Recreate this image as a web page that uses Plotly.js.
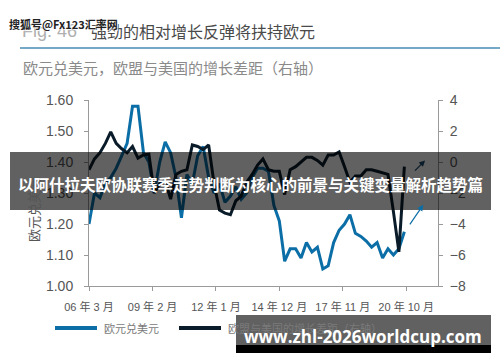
<!DOCTYPE html>
<html><head><meta charset="utf-8">
<script src="https://cdn.plot.ly/plotly-3.0.1.min.js"></script>
<style>html,body{margin:0;padding:0;background:#fff}#c{width:500px;height:362px}</style>
</head><body><div id="c"></div>
<script>
const dates = ['2006-03','2006-06','2006-09','2006-12','2007-03','2007-06','2007-09','2007-12',
'2008-03','2008-06','2008-09','2008-12','2009-03','2009-06','2009-09','2009-12',
'2010-03','2010-06','2010-09','2010-12','2011-03','2011-06','2011-09','2011-12',
'2012-03','2012-06','2012-09','2012-12','2013-03','2013-06','2013-09','2013-12',
'2014-03','2014-06','2014-09','2014-12','2015-03','2015-06','2015-09','2015-12',
'2016-03','2016-06','2016-09','2016-12','2017-03','2017-06','2017-09','2017-12',
'2018-03','2018-06','2018-09','2018-12','2019-03','2019-06','2019-09','2019-12',
'2020-03','2020-06','2020-09'];
const eurusd = [1.20,1.30,1.285,1.33, 1.35,1.38,1.42,1.46, 1.58,1.58,1.43,1.40, 1.30,1.40,1.465,1.43,
1.35,1.22,1.36,1.33, 1.42,1.45,1.35,1.30, 1.33,1.27,1.29,1.32, 1.28,1.30,1.35,1.38,
1.38,1.37,1.26,1.21, 1.08,1.12,1.12,1.09, 1.14,1.11,1.125,1.055, 1.065,1.14,1.18,1.20,
1.23,1.17,1.16,1.145, 1.125,1.14,1.09,1.12, 1.10,1.12,1.175];
const growthGap = [-0.5,0.2,0.6,1.2, 1.95,1.2,0.85,0.6, 1.0,0.25,0.45,0.5, -2.0,-1.4,-1.2,-2.4,
-0.8,-0.6,-0.5,1.1, 1.0,0.8,1.1,-1.4, -3.1,-3.3,-3.4,-2.5, -2.2,-1.3,-0.8,-0.2,
0.2,-0.5,-0.6,-0.6, -2.1,-0.5,-0.3,0.0, 0.3,0.3,0.1,-0.2, 0.45,0.45,0.65,-0.3,
-1.3,-0.9,-0.9,-0.5, -0.5,-0.6,-0.7,-0.8, -3.2,-5.8,-0.3];
const xTickVals = ['2006-03-01','2009-02-01','2012-01-01','2014-12-01','2017-11-01','2020-10-01'];
const xTickText = ['06 年 3 月','09 年 2 月','12 年 1 月','14 年 12 月','17 年 11 月','20 年 10 月'];
const seriesNames = ['欧元兑美元','欧盟与美国的增长差距（右轴）'];
const blue = '#0b6ea6', dark = '#0a1c2a';

// pixel -> paper helpers (plot area 89..438 x 100..286)
const L=89,R=438,T=100,B=286;
const PX = x => (x-L)/(R-L);
const PY = y => (B-y)/(B-T);
const FONT = 'Liberation Sans, Arial, Noto Sans CJK SC, sans-serif';
const CJK = 'Noto Sans CJK SC, sans-serif';

const traces = [
  {x: dates, y: eurusd, type:'scatter', mode:'lines', name: seriesNames[0],
   line:{color:blue, width:3}, yaxis:'y'},
  {x: dates, y: growthGap, type:'scatter', mode:'lines', name: seriesNames[1],
   line:{color:dark, width:3}, yaxis:'y2'}
];

const axCommon = {showline:true, linecolor:'#9a9a9a', linewidth:1, ticks:'outside', ticklen:4,
  tickcolor:'#9a9a9a', showgrid:false, zeroline:false, tickfont:{family:FONT, size:14, color:'#555'}};

const layout = {
  width:500, height:362, margin:{l:L, r:500-R, t:T, b:362-B}, showlegend:false,
  paper_bgcolor:'#fff', plot_bgcolor:'#fff',
  xaxis: Object.assign({}, axCommon, {type:'date', range:['2006-03-01','2022-03-20'],
    tickmode:'array', tickvals:xTickVals, ticktext:xTickText, ticklabelstandoff:7, tickangle:0,
    tickfont:{family:FONT, size:11, color:'#555'}}),
  yaxis: Object.assign({}, axCommon, {range:[1.0,1.6], dtick:0.1, tick0:1.0, tickformat:'.2f', ticklabelstandoff:8}),
  yaxis2: Object.assign({}, axCommon, {overlaying:'y', side:'right', range:[-8,4], dtick:2, tick0:-8, ticklabelstandoff:4}),
  shapes: [
    {type:'line', xref:'paper', yref:'paper', x0:PX(20), x1:PX(500), y0:PY(48), y1:PY(48), line:{color:'#4a8db5', width:1.5}},
    {type:'line', xref:'paper', yref:'paper', x0:PX(55), x1:PX(97), y0:PY(328), y1:PY(328), line:{color:blue, width:4}},
    {type:'line', xref:'paper', yref:'paper', x0:PX(179), x1:PX(221), y0:PY(328), y1:PY(328), line:{color:dark, width:4}},
    // overlay banner
    {type:'rect', xref:'paper', yref:'paper', x0:PX(10), x1:PX(491), y0:PY(210), y1:PY(152), fillcolor:'rgba(0,0,0,0.62)', line:{width:0}, layer:'above'},
    {type:'rect', xref:'paper', yref:'paper', x0:PX(236), x1:PX(491), y0:PY(345), y1:PY(315), fillcolor:'rgba(0,0,0,0.62)', line:{width:0}, layer:'above'},
    {type:'rect', xref:'paper', yref:'paper', x0:PX(236), x1:PX(491), y0:PY(353), y1:PY(345), fillcolor:'#000', line:{width:0}, layer:'above'}
  ],
  annotations: [
    {xref:'paper', yref:'paper', x:PX(20), y:PY(31), xanchor:'left', yanchor:'middle', showarrow:false,
     text:'Fig. 46', font:{family:FONT, size:18, color:'#b0b0b0'}},
    {xref:'paper', yref:'paper', x:PX(89), y:PY(31), xanchor:'left', yanchor:'middle', showarrow:false,
     text:'强劲的相对增长反弹将扶持欧元', font:{family:CJK, size:16, color:'#4a4a4a'}},
    {xref:'paper', yref:'paper', x:PX(7), y:PY(24), xanchor:'left', yanchor:'middle', showarrow:false,
     text:'<b>搜狐号@Fx123汇率网</b>', font:{family:CJK, size:11, color:'#222', shadow:'1px 1px 1px #fff, -1px -1px 1px #fff'}},
    {xref:'paper', yref:'paper', x:PX(21), y:PY(68), xanchor:'left', yanchor:'middle', showarrow:false,
     text:'欧元兑美元，欧盟与美国的增长差距（右轴）', font:{family:CJK, size:15, color:'#8a8a8a'}},
    {xref:'paper', yref:'paper', x:PX(33), y:PY(209), xanchor:'center', yanchor:'middle', showarrow:false,
     textangle:-90, text:seriesNames[0], font:{family:CJK, size:13, color:'#555'}},
    {xref:'paper', yref:'paper', x:PX(102), y:PY(328), xanchor:'left', yanchor:'middle', showarrow:false,
     text:seriesNames[0], font:{family:CJK, size:11, color:'#7a7a7a'}},
    {xref:'paper', yref:'paper', x:PX(226), y:PY(328), xanchor:'left', yanchor:'middle', showarrow:false,
     text:seriesNames[1], font:{family:CJK, size:11, color:'#7a7a7a'}},
    // arrows
    {xref:'x', yref:'y', axref:'x', ayref:'y', x:'2021-07-15', y:1.262, ax:'2020-11-15', ay:1.194,
     showarrow:true, arrowhead:2, arrowsize:1, arrowwidth:1.2, arrowcolor:blue, text:''},
    {xref:'x', yref:'y2', axref:'x', ayref:'y2', x:'2021-08-15', y:0.1, ax:'2021-02-01', ay:-0.65,
     showarrow:true, arrowhead:2, arrowsize:1, arrowwidth:1.2, arrowcolor:dark, text:''},
    // overlay texts
    {xref:'paper', yref:'paper', x:PX(250), y:PY(184), xanchor:'center', yanchor:'middle', showarrow:false,
     text:'<b>以阿什拉夫欧协联赛季走势判断为核心的前景与关键变量解析趋势篇</b>', font:{family:CJK, size:15.5, color:'#fff'}},
    {xref:'paper', yref:'paper', x:PX(363), y:PY(336), xanchor:'center', yanchor:'middle', showarrow:false,
     text:'<b>www.zhl-2026worldcup.com</b>', font:{family:'Open Sans, DejaVu Sans, sans-serif', size:17, color:'#fff'}}
  ]
};
Plotly.newPlot('c', traces, layout, {displayModeBar:false, staticPlot:true});
</script></body></html>
